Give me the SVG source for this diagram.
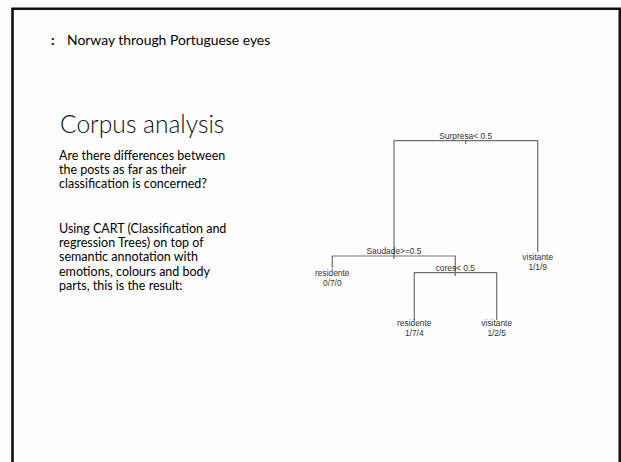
<svg xmlns="http://www.w3.org/2000/svg" width="621" height="462" viewBox="0 0 621 462">
<style>
.hdr{font-family:Lato,"Open Sans","Liberation Sans",sans-serif;fill:#000}
.body{font-family:Lato,"Open Sans","Liberation Sans",sans-serif;font-size:12.5px;fill:#000}
.title{font-family:Lato,"Open Sans","Liberation Sans",sans-serif;font-size:24.6px;font-weight:300;fill:#111}
.tl{font-family:"Liberation Sans",Arial,sans-serif;font-size:8.4px;fill:#333;text-anchor:middle}
.edge{fill:none;stroke:#6e6e6e;stroke-width:1.2}
</style>
<rect x="0" y="0" width="621" height="462" fill="#fefefe"/>
<path d="M12.5,462 V8.8 H619.8 V462" fill="none" stroke="#111" stroke-width="2.6"/>
<text class="hdr" x="51" y="44.5" font-size="14" font-weight="bold">:</text>
<text class="hdr" x="67" y="44.5" font-size="13.9">Norway through Portuguese eyes</text>
<text class="title" x="60" y="133">Corpus analysis</text>
<g class="body">
<text x="59" y="160">Are there differences between</text>
<text x="59" y="174">the posts as far as their</text>
<text x="59" y="188">classification is concerned?</text>
<text x="59" y="233">Using CART (Classification and</text>
<text x="59" y="247">regression Trees) on top of</text>
<text x="59" y="261">semantic annotation with</text>
<text x="59" y="276">emotions, colours and body</text>
<text x="59" y="290">parts, this is the result:</text>
</g>
<g id="connectors">
<path class="edge" d="M394,256 V140.7 H537.7 V252"/>
<path class="edge" d="M465.7,140.7 V144"/>
<path class="edge" d="M332.3,268 V256 H455.3 V272.7"/>
<path class="edge" d="M394,256 V259"/>
<path class="edge" d="M414.3,320 V272.7 H496.7 V320"/>
<path class="edge" d="M455.3,272.7 V276"/>
</g>
<g id="node-surpresa"><text class="tl" x="465.7" y="138.5">Surpresa&lt; 0.5</text></g>
<g id="node-saudade"><text class="tl" x="394" y="254">Saudade&gt;=0.5</text></g>
<g id="node-cores"><text class="tl" x="455.3" y="270.5">cores&lt; 0.5</text></g>
<g id="leaf-visitante-1"><text class="tl" x="537.7" y="260">visitante</text><text class="tl" x="537.7" y="269.5">1/1/9</text></g>
<g id="leaf-residente-1"><text class="tl" x="332.3" y="276">residente</text><text class="tl" x="332.3" y="286">0/7/0</text></g>
<g id="leaf-residente-2"><text class="tl" x="414.3" y="326">residente</text><text class="tl" x="414.3" y="336">1/7/4</text></g>
<g id="leaf-visitante-2"><text class="tl" x="496.7" y="326">visitante</text><text class="tl" x="496.7" y="336">1/2/5</text></g>
</svg>
